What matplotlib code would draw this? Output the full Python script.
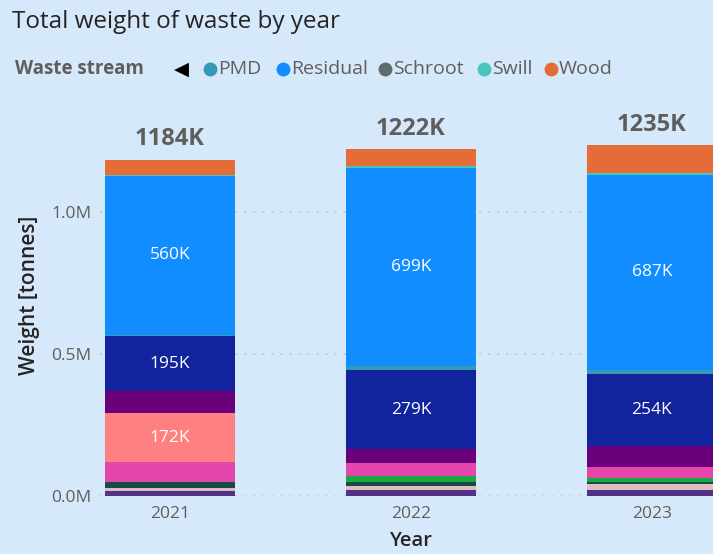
import matplotlib
matplotlib.use("Agg")
import matplotlib.pyplot as plt
from matplotlib.lines import Line2D
from matplotlib.ticker import FuncFormatter
import numpy as np

plt.rcParams['font.family'] = ['Open Sans', 'DejaVu Sans']

years = ["2021", "2022", "2023"]

# waste streams, bottom to top (alphabetical as in the legend)
streams = ["Asbestos", "Batteries", "Construction", "E-waste", "Glass", "Hazardous",
           "Organic", "Paper", "PMD", "Residual", "Schroot", "Swill", "Wood"]
colors = ["#533285", "#DDBDBF", "#184B46", "#1AAB40", "#E645AB", "#FF8080",
          "#6B007B", "#12239E", "#3599B8", "#118DFF", "#5F6B6D", "#4AC5BB", "#E66C37"]

# weights in tonnes per year
asbestos     = [18000, 21000, 20000]
batteries    = [10000, 14000, 23000]
construction = [21000, 15000, 5000]
ewaste       = [0, 21000, 16000]
glass        = [70000, 44000, 37000]
hazardous    = [172000, 0, 0]
organic      = [77000, 50000, 76000]
paper        = [195000, 279000, 254000]
pmd          = [5000, 13000, 14000]
residual     = [560000, 699000, 687000]
schroot      = [0, 0, 0]
swill        = [1000, 5000, 5000]
wood         = [55000, 61000, 98000]

series = [asbestos, batteries, construction, ewaste, glass, hazardous,
          organic, paper, pmd, residual, schroot, swill, wood]
legend_visible = ["PMD", "Residual", "Schroot", "Swill", "Wood"]

W, H = 713, 554
bg = "#D6E9FB"
fig = plt.figure(figsize=(W / 100, H / 100), dpi=100, facecolor=bg)

ax_left, ax_right, ax_bottom, ax_top = 100, 713, 496, 100
ax = fig.add_axes([ax_left / W, 1 - ax_bottom / H, (ax_right - ax_left) / W, (ax_bottom - ax_top) / H])
ax.set_facecolor(bg)

x = np.arange(len(years))
bar_w = 130 / 241
bottom = np.zeros(len(years))
for name, vals, c in zip(streams, series, colors):
    vals = np.array(vals, dtype=float)
    ax.bar(x, vals, bar_w, bottom=bottom, color=c, zorder=3, linewidth=0)
    for xi, v, b in zip(x, vals, bottom):
        if v >= 100000:
            ax.text(xi, b + v / 2, f"{round(v / 1000):.0f}K", ha="center", va="center",
                    color="white", fontsize=12.5, zorder=4)
    bottom = bottom + vals

totals = bottom
for xi, t in zip(x, totals):
    ax.annotate(f"{round(t / 1000):.0f}K", (xi, t), xytext=(0, 6), textcoords="offset points",
                ha="center", va="bottom", fontsize=17, fontweight="bold", color="#605E5C")

ax.set_xlim(-70 / 241, 2 + 61 / 241)
ax.set_ylim(0, (ax_bottom - ax_top) / 284 * 1e6)
ax.set_yticks([0, 500000, 1000000])
ax.yaxis.set_major_formatter(FuncFormatter(lambda v, p: f"{v / 1e6:.1f}M"))
ax.set_xticks(x)
ax.set_xticklabels(years)
ax.tick_params(axis="both", length=0, colors="#605E5C", labelsize=12.5)
ax.tick_params(axis="y", pad=6)
ax.tick_params(axis="x", pad=7)
for s in ax.spines.values():
    s.set_visible(False)
ax.grid(axis="y", color="#C4C8CC", linestyle=(0, (1, 4)), linewidth=1.3, zorder=0)
ax.grid(axis="x", visible=False)

# titles
fig.text(12 / W, 1 - 22 / H, "Total weight of waste by year", fontsize=17.5, color="#252423",
         ha="left", va="center")
fig.text(30 / W, 1 - 295 / H, "Weight [tonnes]", rotation=90, fontsize=15, color="#252423",
         ha="center", va="center", fontweight="semibold")
fig.text(411 / W, 1 - 541 / H, "Year", fontsize=14.5, color="#252423", ha="center", va="center",
         fontweight="semibold")

# legend
ly = 1 - 69 / H
fig.text(15 / W, ly, "Waste stream", fontsize=13.5, fontweight="bold", color="#605E5C",
         ha="left", va="center")
fig.text(181 / W, ly, "\u25C0", fontsize=14, color="black", ha="center", va="center",
         family="DejaVu Sans")
marker_x = [210, 283, 385, 484, 551]
for mx, name in zip(marker_x, legend_visible):
    c = colors[streams.index(name)]
    fig.add_artist(Line2D([mx / W], [ly], marker="o", markersize=10, color=c,
                          markeredgewidth=0, transform=fig.transFigure))
    fig.text((mx + 8) / W, ly, name, fontsize=14, color="#605E5C", ha="left", va="center")

fig.savefig("out.png", dpi=100, facecolor=bg)
